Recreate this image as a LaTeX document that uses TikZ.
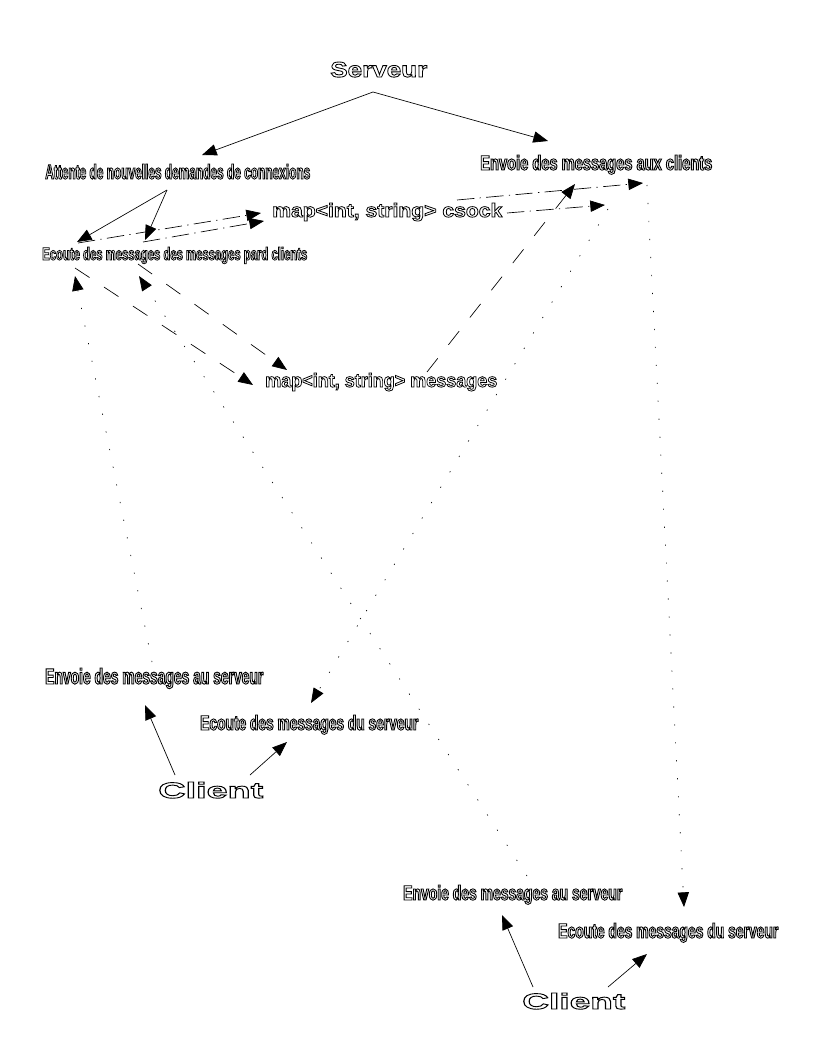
\documentclass[tikz,border=0pt]{standalone}
\usepackage{fontspec}
\usepackage{graphicx}
\setmainfont{Liberation Sans}
\newfontfamily\narrowf[FakeStretch=0.6]{Liberation Sans}
\newfontfamily\widef[FakeStretch=1.25]{Liberation Sans}
\usetikzlibrary{arrows.meta}
\newdimen\pxu \pxu=0.75pt
\newcommand{\olt}[1]{\special{pdf:literal direct 1 Tr 0.4 w}#1\special{pdf:literal direct 0 Tr}}
\newcommand{\ntxt}[3]{\resizebox{#1\pxu}{#2\pxu}{\narrowf\bfseries\olt{#3}}}
\newcommand{\btxt}[3]{\resizebox{#1\pxu}{#2\pxu}{\bfseries\olt{#3}}}
\newcommand{\wtxt}[3]{\resizebox{#1\pxu}{#2\pxu}{\widef\bfseries\olt{#3}}}
\tikzset{
  lbl/.style={inner sep=0pt, anchor=base west},
  conn/.style={line width=0.5pt, -{Triangle[length=11pt,width=8.5pt]}},
  solidc/.style={conn},
  dashc/.style={conn, dash pattern=on 13pt off 13pt},
  dashdotc/.style={conn, dash pattern=on 13pt off 4pt on 1pt off 4pt},
  dotc/.style={conn, dash pattern=on 0.9pt off 12.6pt},
}
\begin{document}
\begin{tikzpicture}[x=0.75pt,y=-0.75pt]
\useasboundingbox (0,0) rectangle (816,1056);
% text nodes
\node[lbl] (serveur) at (330,77) {\wtxt{97}{15}{Serveur}};
\node[lbl] (attente) at (45,179) {\ntxt{265}{15}{Attente de nouvelles demandes de connexions}};
\node[lbl] (ecoute) at (42,260) {\ntxt{265}{13}{Ecoute des messages des messages pard clients}};
\node[lbl] (csock) at (272,217) {\btxt{230}{14}{map<int, string> csock}};
\node[lbl] (envoie) at (480,170) {\ntxt{232}{15}{Envoie des messages aux clients}};
\node[lbl] (messages) at (265,387) {\btxt{232}{14}{map<int, string> messages}};
\node[lbl] (envL) at (45,684) {\ntxt{218}{16}{Envoie des messages au serveur}};
\node[lbl] (ecL) at (200,730) {\ntxt{218}{15}{Ecoute des messages du serveur}};
\node[lbl] (clientL) at (158,798) {\wtxt{105}{16}{Client}};
\node[lbl] (envR) at (403,900) {\ntxt{219}{15}{Envoie des messages au serveur}};
\node[lbl] (ecR) at (558,938) {\ntxt{220}{15}{Ecoute des messages du serveur}};
\node[lbl] (clientR) at (522,1009) {\wtxt{103}{16}{Client}};
% connector end points
\coordinate (s0) at (373,92);
\coordinate (attTop) at (202,155);
\coordinate (envTop) at (548,141);
\coordinate (attBot) at (167,190);
\coordinate (ecA) at (77,242);
\coordinate (ecB) at (145,240);
\coordinate (csA) at (261,213);
\coordinate (csB) at (264,221);
\coordinate (ecA0) at (78,243);
\coordinate (ecB0) at (143,242);
\coordinate (csR1) at (457,200);
\coordinate (csR2) at (507,213);
\coordinate (envA) at (643,183);
\coordinate (envB) at (605,205);
\coordinate (msgOut) at (427,372);
\coordinate (envC) at (575,184);
\coordinate (ecC) at (75,268);
\coordinate (ecD) at (138,264);
\coordinate (msgA) at (253,385);
\coordinate (msgB) at (287,370);
\coordinate (envLout) at (152,662);
\coordinate (ecIn1) at (75,276);
\coordinate (envRout) at (527,876);
\coordinate (ecIn2) at (139,276);
\coordinate (envD) at (647,185);
\coordinate (ecRin) at (684,907);
\coordinate (envE) at (608,209);
\coordinate (ecLin) at (311,703);
\coordinate (cl1) at (175,775);
\coordinate (cl2) at (250,775);
\coordinate (envLin) at (145,705);
\coordinate (ecLin2) at (287,742);
\coordinate (cr1) at (533,987);
\coordinate (cr2) at (608,987);
\coordinate (envRin) at (502,915);
\coordinate (ecRin2) at (647,954);
% solid
\draw[solidc] (s0) -- (attTop);
\draw[solidc] (s0) -- (envTop);
\draw[solidc] (attBot) -- (ecA);
\draw[solidc] (attBot) -- (ecB);
\draw[solidc] (cl1) -- (envLin);
\draw[solidc] (cl2) -- (ecLin2);
\draw[solidc] (cr1) -- (envRin);
\draw[solidc] (cr2) -- (ecRin2);
% dash-dot
\draw[dashdotc] (ecA0) -- (csA);
\draw[dashdotc] (ecB0) -- (csB);
\draw[dashdotc] (csR1) -- (envA);
\draw[dashdotc] (csR2) -- (envB);
% dashed
\draw[dashc] (ecC) -- (msgA);
\draw[dashc] (ecD) -- (msgB);
\draw[dashc] (msgOut) -- (envC);
% dotted
\draw[dotc] (envLout) -- (ecIn1);
\draw[dotc] (envRout) -- (ecIn2);
\draw[dotc] (envD) -- (ecRin);
\draw[dotc] (envE) -- (ecLin);
\end{tikzpicture}
\end{document}
